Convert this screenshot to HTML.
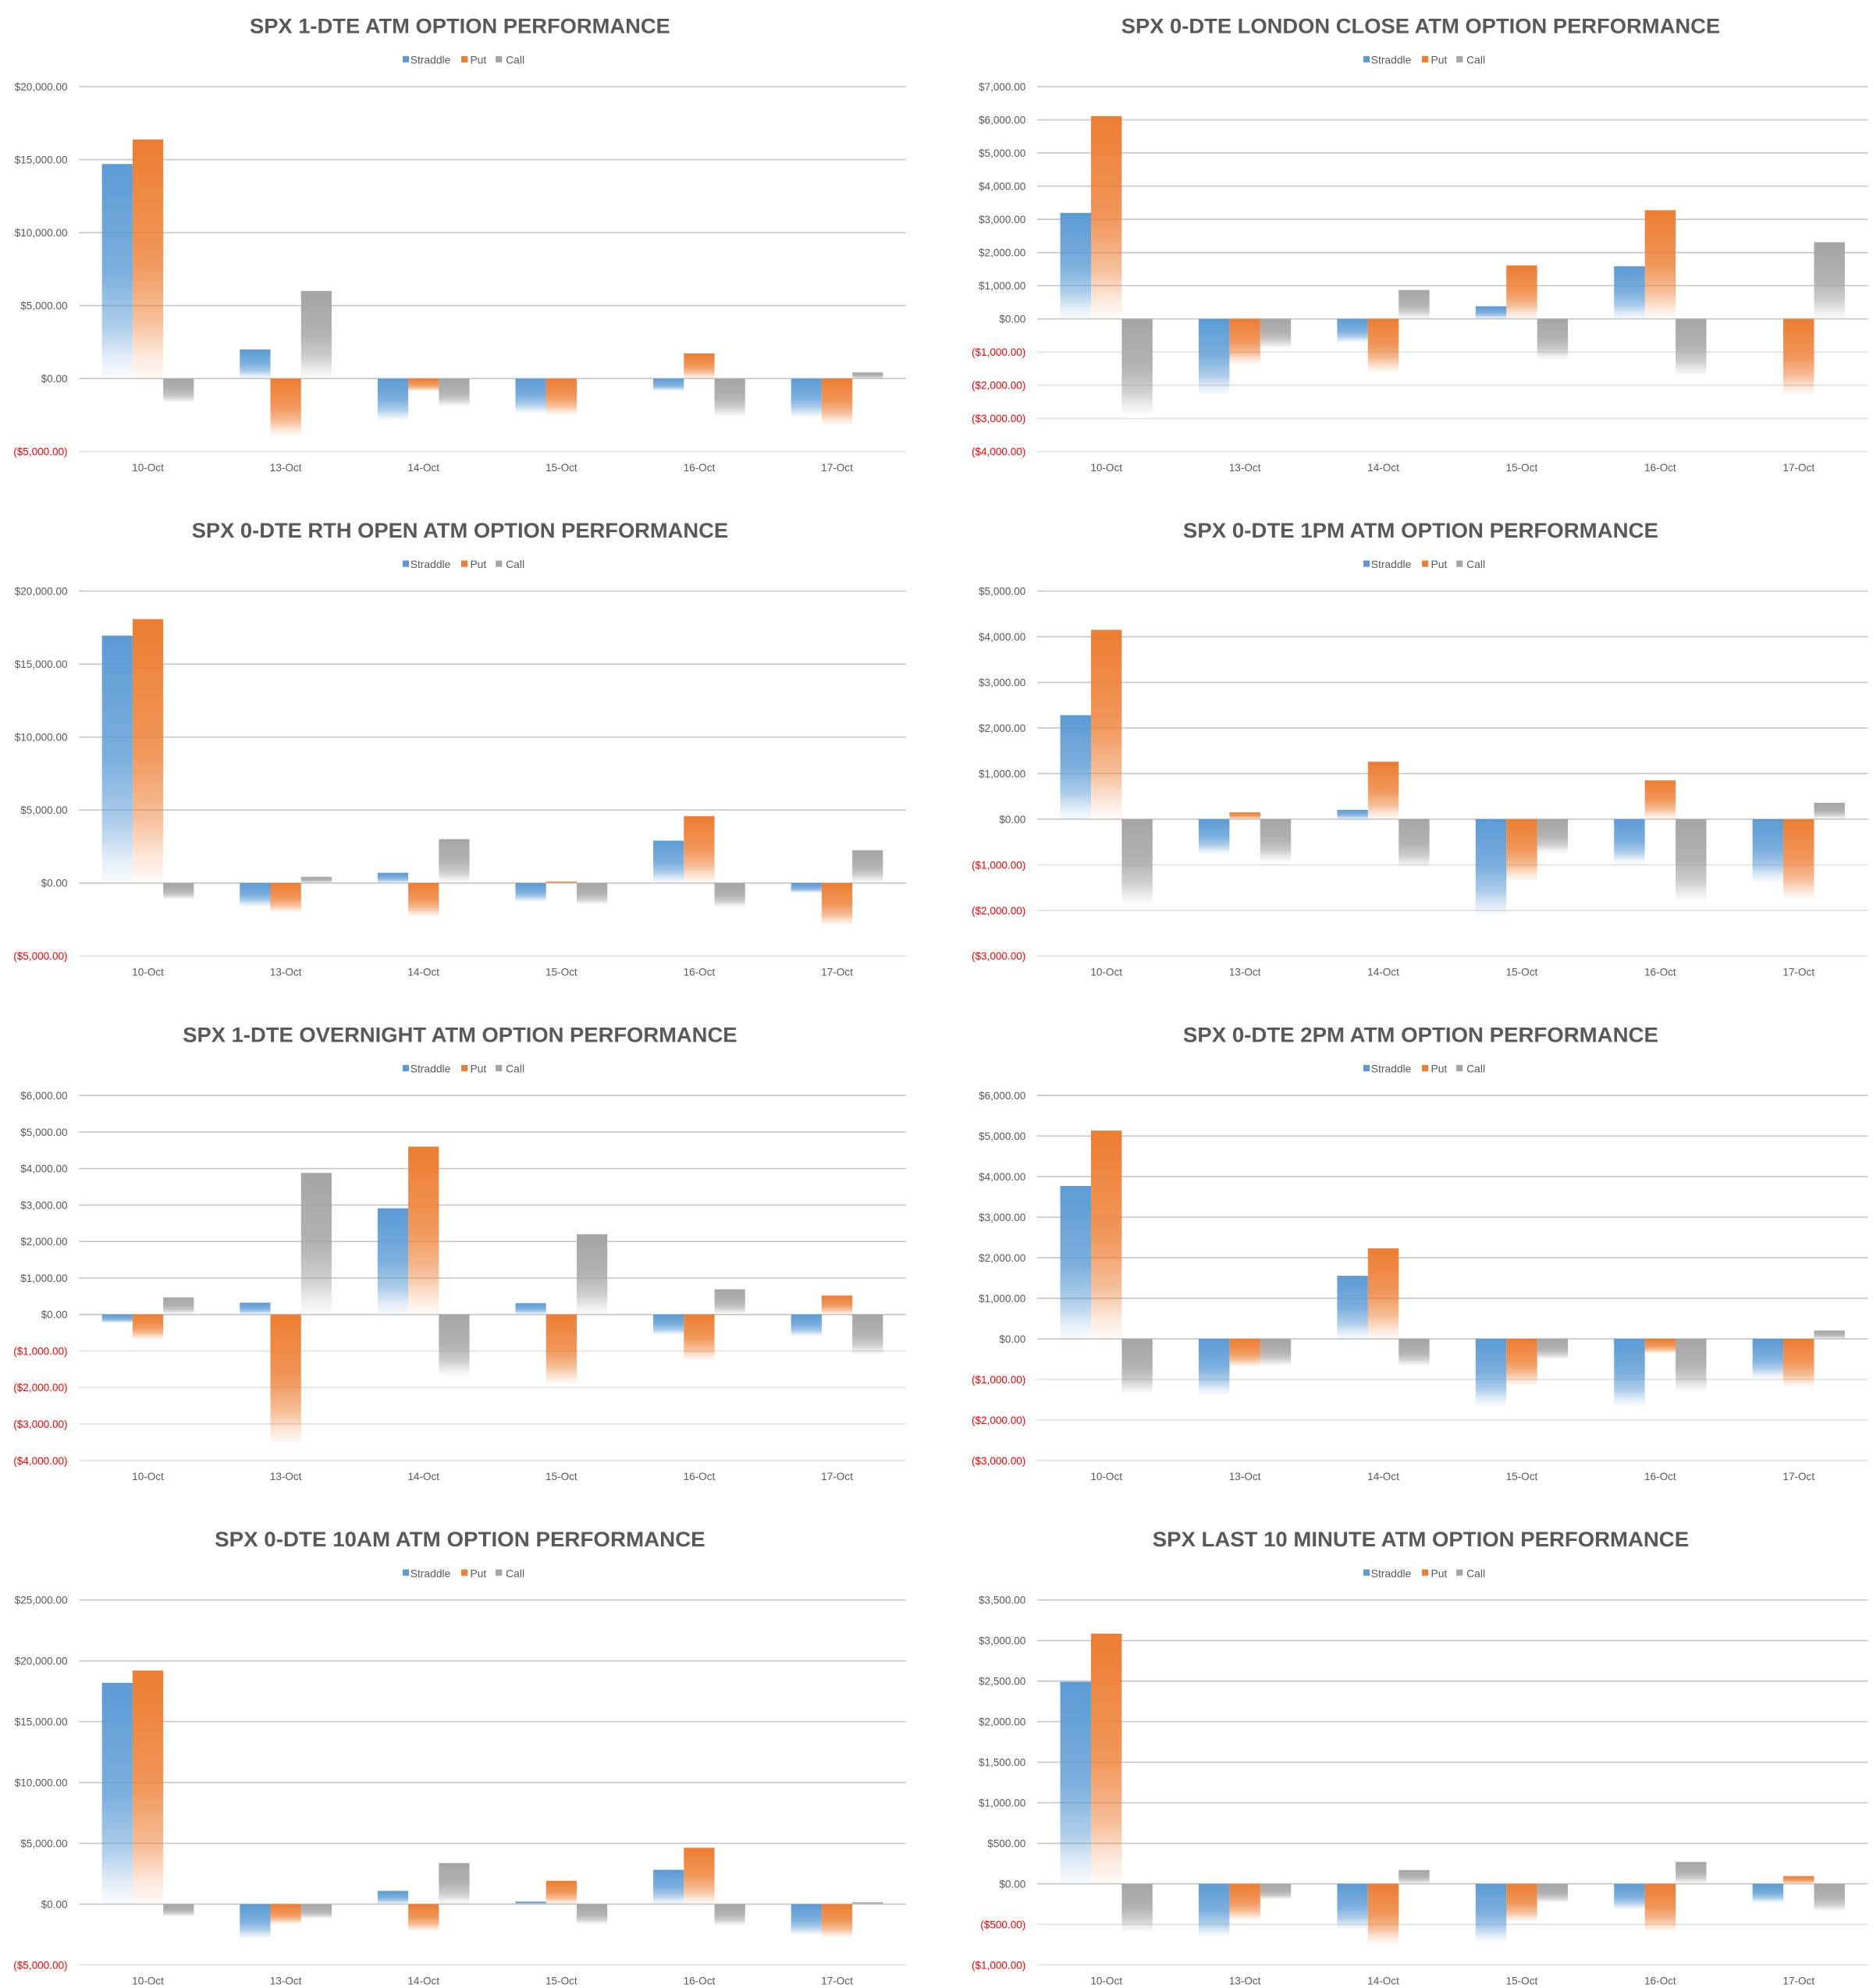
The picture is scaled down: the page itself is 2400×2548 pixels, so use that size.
<!DOCTYPE html>
<html><head><meta charset="utf-8"><title>SPX ATM Option Performance</title>
<style>
html,body{margin:0;padding:0;background:#fff;}
svg{display:block;font-family:"Liberation Sans",Arial,sans-serif;}
</style></head>
<body>
<svg id="root" xmlns="http://www.w3.org/2000/svg" width="2400" height="2548" viewBox="0 0 1470 1560.6" preserveAspectRatio="none">
<defs>
<linearGradient id="g0" x1="0" y1="0" x2="0" y2="1">
<stop offset="0" stop-color="#5b9bd5" stop-opacity="1"/><stop offset="0.5" stop-color="#5b9bd5" stop-opacity="0.8"/><stop offset="0.75" stop-color="#5b9bd5" stop-opacity="0.5"/><stop offset="0.9" stop-color="#5b9bd5" stop-opacity="0.18"/><stop offset="1" stop-color="#5b9bd5" stop-opacity="0.03"/></linearGradient>
<linearGradient id="g1" x1="0" y1="0" x2="0" y2="1">
<stop offset="0" stop-color="#ed7d31" stop-opacity="1"/><stop offset="0.5" stop-color="#ed7d31" stop-opacity="0.8"/><stop offset="0.75" stop-color="#ed7d31" stop-opacity="0.5"/><stop offset="0.9" stop-color="#ed7d31" stop-opacity="0.18"/><stop offset="1" stop-color="#ed7d31" stop-opacity="0.03"/></linearGradient>
<linearGradient id="g2" x1="0" y1="0" x2="0" y2="1">
<stop offset="0" stop-color="#a5a5a5" stop-opacity="1"/><stop offset="0.5" stop-color="#a5a5a5" stop-opacity="0.85"/><stop offset="0.75" stop-color="#a5a5a5" stop-opacity="0.55"/><stop offset="0.9" stop-color="#a5a5a5" stop-opacity="0.2"/><stop offset="1" stop-color="#a5a5a5" stop-opacity="0.03"/></linearGradient>
</defs>
</svg>
<script>
const categories = ["10-Oct","13-Oct","14-Oct","15-Oct","16-Oct","17-Oct"];
const seriesNames = ["Straddle","Put","Call"];
const titles = [
 "SPX 1-DTE ATM OPTION PERFORMANCE",
 "SPX 0-DTE  LONDON CLOSE ATM OPTION PERFORMANCE",
 "SPX 0-DTE RTH OPEN ATM OPTION PERFORMANCE",
 "SPX 0-DTE 1PM ATM OPTION PERFORMANCE",
 "SPX 1-DTE OVERNIGHT ATM OPTION PERFORMANCE",
 "SPX 0-DTE 2PM ATM OPTION PERFORMANCE",
 "SPX 0-DTE 10AM ATM OPTION PERFORMANCE",
 "SPX LAST 10 MINUTE ATM OPTION PERFORMANCE"
];
const straddle1 = [14700, 2000, -2850, -2380, -850, -2640];
const put1      = [16380, -3900, -850, -2490, 1720, -3140];
const call1     = [-1650, 6000, -1940, 0, -2600, 430];
const straddle2 = [3195, -2260, -715, 380, 1585, 0];
const put2      = [6110, -1370, -1610, 1610, 3275, -2290];
const call2     = [-2890, -880, 870, -1220, -1710, 2310];
const straddle3 = [16950, -1610, 700, -1270, 2900, -680];
const put3      = [18080, -2030, -2290, 110, 4580, -2900];
const call3     = [-1110, 425, 3010, -1480, -1660, 2250];
const straddle4 = [2280, -760, 205, -2110, -960, -1380];
const put4      = [4150, 150, 1260, -1350, 850, -1755];
const call4     = [-1855, -930, -1070, -745, -1810, 360];
const straddle5 = [-230, 325, 2910, 310, -560, -600];
const put5      = [-685, -3545, 4600, -1910, -1260, 520];
const call5     = [470, 3880, -1690, 2200, 690, -1110];
const straddle6 = [3770, -1370, 1555, -1650, -1665, -970];
const put6      = [5135, -690, 2230, -1150, -360, -1190];
const call6     = [-1370, -660, -670, -505, -1290, 205];
const straddle7 = [18190, -2820, 1090, 210, 2820, -2550];
const put7      = [19200, -1680, -2210, 1915, 4630, -2740];
const call7     = [-1010, -1200, 3380, -1680, -1760, 160];
const straddle8 = [2490, -650, -560, -710, -315, -235];
const put8      = [3085, -450, -735, -465, -590, 95];
const call8     = [-590, -195, 170, -235, 270, -340];
const axisMax  = [20000, 7000, 20000, 5000, 6000, 6000, 25000, 3500];
const axisMin  = [-5000, -4000, -5000, -3000, -4000, -3000, -5000, -1000];
const axisStep = [5000, 1000, 5000, 1000, 1000, 1000, 5000, 500];

const chartSeries = [
 [straddle1, put1, call1],[straddle2, put2, call2],[straddle3, put3, call3],[straddle4, put4, call4],
 [straddle5, put5, call5],[straddle6, put6, call6],[straddle7, put7, call7],[straddle8, put8, call8]
];
const titleWidths = [330, 470, 421, 373, 435, 373, 385, 421];
const NS = "http://www.w3.org/2000/svg";
const root = document.getElementById('root');
const colors = ["#5b9bd5","#ed7d31","#a5a5a5"];
function mk(tag, attrs, parent){const e=document.createElementNS(NS,tag);for(const k in attrs)e.setAttribute(k,attrs[k]);parent.appendChild(e);return e;}
function fmt(v){const a=Math.abs(v);const s='$'+a.toLocaleString('en-US',{minimumFractionDigits:2,maximumFractionDigits:2});return v<0?'('+s+')':s;}

for(let i=0;i<8;i++){
  const col=i%2,row=Math.floor(i/2);
  const base=396*row;
  const L=col?814:62, R=col?1466:711;
  const cx=col?1115:361;
  const top=base+68, bot=base+354.5;
  const vmax=axisMax[i], vmin=axisMin[i], step=axisStep[i];
  const y=v=>top+(vmax-v)/(vmax-vmin)*(bot-top);
  const g=mk('g',{},root);
  
  
  const t=mk('text',{x:cx,y:base+26,'text-anchor':'middle','font-size':16.5,'font-weight':'bold',fill:'#595959',textLength:titleWidths[i],lengthAdjust:'spacingAndGlyphs'},g);
  t.textContent=titles[i];
  
  
  const lg=mk('g',{},g);
  
  
  const lx=[cx-45,cx+1,cx+28], tx=[cx-39,cx+8,cx+36];
  for(let k=0;k<3;k++){
    const sq=mk('rect',{x:lx[k],y:base+44,width:5,height:5,fill:colors[k]},lg);
    
    
    const lt=mk('text',{x:tx[k],y:base+50,'font-size':8.5,fill:'#595959'},lg);
    lt.textContent=seriesNames[k];
    
    
  }
  for(let v=vmax; v>=vmin-1e-6; v-=step){
    const yy=y(v);
    const gl=mk('line',{x1:L,x2:R,y1:yy,y2:yy,stroke:v>=0?'#c6c6c6':'#e0e0e0','stroke-width':1},g);
    
    
    const tl=mk('text',{x:L-9,y:yy+3,'text-anchor':'end','font-size':8.3,fill:v<0?'#ff0000':'#595959'},g);
    tl.textContent=fmt(v);
    
    
  }
  const band=(R-L)/6, w=band/4.5;
  for(let j=0;j<6;j++){
    const c=L+band*(j+0.5);
    const cl=mk('text',{x:c,y:bot+15.5,'text-anchor':'middle','font-size':8.3,fill:'#595959'},g);
    cl.textContent=categories[j];
    
    
    for(let k=0;k<3;k++){
      const v=chartSeries[i][k][j];
      if(v===0) continue;
      const y0=y(0), y1=y(v);
      const b=mk('rect',{x:c-1.5*w+k*w,y:Math.min(y0,y1),width:w,height:Math.abs(y1-y0),fill:'url(#g'+k+')'},g);
      
      
    }
  }
}
</script>
</body></html>
